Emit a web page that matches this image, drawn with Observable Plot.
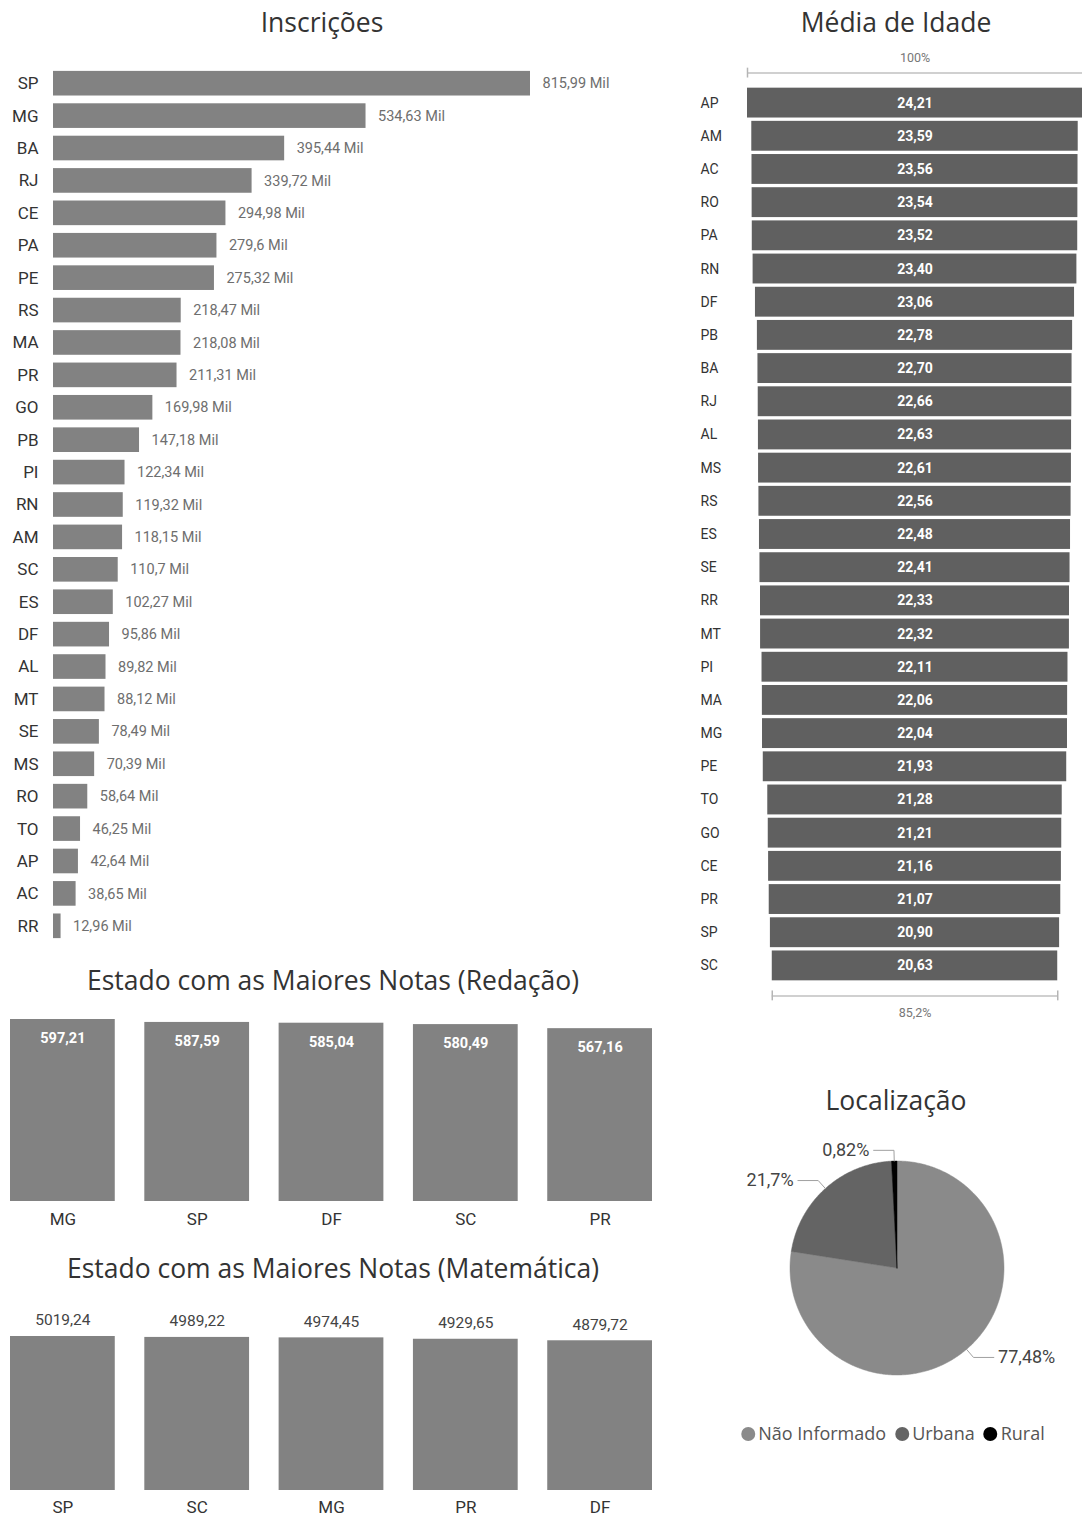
<!DOCTYPE html>
<html><head><meta charset="utf-8">
<script src="https://cdn.jsdelivr.net/npm/d3@7"></script>
<script src="https://cdn.jsdelivr.net/npm/@observablehq/plot@0.6"></script>
<style>
body{margin:0;width:1082px;height:1515px;position:relative;overflow:hidden;background:#fff;}
.title{position:absolute;font-family:"Open Sans",sans-serif;font-size:26.5px;color:#333;white-space:nowrap;transform:translateX(-50%);line-height:30px;}
.box{position:absolute;}
.legend{position:absolute;left:893px;top:1421px;transform:translateX(-50%);display:flex;gap:9px;font-family:"Open Sans",sans-serif;font-size:18px;color:#555;white-space:nowrap;align-items:center;}
.legend span.sw{display:inline-block;width:14px;height:14px;border-radius:50%;margin-right:3px;vertical-align:-1px;}
</style></head>
<body>
<div class="title" style="left:322px;top:7px">Inscrições</div>
<div class="title" style="left:896px;top:7px">Média de Idade</div>
<div class="title" style="left:333px;top:965px">Estado com as Maiores Notas (Redação)</div>
<div class="title" style="left:333px;top:1253px">Estado com as Maiores Notas (Matemática)</div>
<div class="title" style="left:896px;top:1085px">Localização</div>
<div class="box" id="insc" style="left:0;top:67px"></div>
<div class="box" id="age" style="left:690px;top:46px"></div>
<div class="box" id="red" style="left:0;top:1000px"></div>
<div class="box" id="mat" style="left:0;top:1300px"></div>
<div class="box" id="pie" style="left:700px;top:1130px"></div>
<div class="legend" id="legend"></div>
<script>
// ---- Data ----
const inscStates = ["SP","MG","BA","RJ","CE","PA","PE","RS","MA","PR","GO","PB","PI","RN","AM","SC","ES","DF","AL","MT","SE","MS","RO","TO","AP","AC","RR"];
const inscValues = [815.99,534.63,395.44,339.72,294.98,279.6,275.32,218.47,218.08,211.31,169.98,147.18,122.34,119.32,118.15,110.7,102.27,95.86,89.82,88.12,78.49,70.39,58.64,46.25,42.64,38.65,12.96];

const ageStates = ["AP","AM","AC","RO","PA","RN","DF","PB","BA","RJ","AL","MS","RS","ES","SE","RR","MT","PI","MA","MG","PE","TO","GO","CE","PR","SP","SC"];
const ageValues = [24.21,23.59,23.56,23.54,23.52,23.40,23.06,22.78,22.70,22.66,22.63,22.61,22.56,22.48,22.41,22.33,22.32,22.11,22.06,22.04,21.93,21.28,21.21,21.16,21.07,20.90,20.63];

const redStates = ["MG","SP","DF","SC","PR"];
const redValues = [597.21,587.59,585.04,580.49,567.16];

const matStates = ["SP","SC","MG","PR","DF"];
const matValues = [5019.24,4989.22,4974.45,4929.65,4879.72];

const locNames = ["Não Informado","Urbana","Rural"];
const locValues = [77.48,21.7,0.82];
const locColors = ["#8a8a8a","#646464","#000000"];

// ---- Helpers ----
const comma = s => String(s).replace(".", ",");
const fix2 = v => comma(v.toFixed(2));
const font = "Roboto, 'DejaVu Sans', sans-serif";

// ---- Inscrições ----
const insc = inscStates.map((s,i)=>({s, v: inscValues[i]}));
document.getElementById("insc").append(Plot.plot({
  width: 650, height: 875, marginTop: 0, marginBottom: 0, marginLeft: 53, marginRight: 120,
  style: {fontFamily: font, background: "transparent"},
  x: {domain: [0, d3.max(inscValues)], axis: null},
  y: {domain: inscStates, paddingInner: 0.24, paddingOuter: 0.12, round: false, axis: null},
  marks: [
    Plot.barX(insc, {x: "v", y: "s", fill: "#828282"}),
    Plot.text(insc, {x: "v", y: "s", text: d => comma(d.v) + " Mil", textAnchor: "start", dx: 12, fill: "#6e6e6e", fontSize: 14.5}),
    Plot.text(insc, {y: "s", text: "s", frameAnchor: "left", textAnchor: "end", dx: -15, fill: "#333", fontSize: 17})
  ]
}));

// ---- Média de Idade (funnel) ----
const age = ageStates.map((s,i)=>({s, v: ageValues[i]}));
const ageMax = d3.max(ageValues), ageMin = d3.min(ageValues);
const firstAge = ageStates[0], lastAge = ageStates[ageStates.length - 1];
const pct = v => comma(+(v).toFixed(1)) + "%";
document.getElementById("age").append(Plot.plot({
  width: 392, height: 986, marginTop: 40, marginBottom: 50, marginLeft: 57, marginRight: 0,
  style: {fontFamily: font, background: "transparent", overflow: "visible"},
  x: {domain: [-ageMax, ageMax], axis: null},
  y: {domain: ageStates, paddingInner: 0.1, paddingOuter: 0.05, round: false, axis: null},
  marks: [
    Plot.barX(age, {x1: d => -d.v, x2: d => d.v, y: "s", fill: "#606060"}),
    Plot.text(age, {y: "s", text: d => fix2(d.v), frameAnchor: "middle", fill: "white", fontWeight: "bold", fontSize: 14}),
    Plot.text(age, {y: "s", text: "s", frameAnchor: "left", textAnchor: "start", dx: -47, fill: "#333", fontSize: 14}),
    // top scale (100%)
    Plot.ruleY([ageMax], {y: () => firstAge, x1: d => -d, x2: d => d, stroke: "#d0d0d0", strokeWidth: 2, dy: -30}),
    Plot.tickX([-ageMax], {x: d => d, y: () => firstAge, insetTop: 10, insetBottom: 10, stroke: "#b5b5b5", strokeWidth: 1.5, dy: -30}),
    Plot.text([ageMax], {x: () => 0, text: d => pct(d / ageMax * 100), frameAnchor: "top", dy: -33, fill: "#777", fontSize: 12.5}),
    // bottom scale (min %)
    Plot.ruleY([ageMin], {y: () => lastAge, x1: d => -d, x2: d => d, stroke: "#d0d0d0", strokeWidth: 2, dy: 30}),
    Plot.tickX([-ageMin, ageMin], {x: d => d, y: () => lastAge, insetTop: 10, insetBottom: 10, stroke: "#b5b5b5", strokeWidth: 1.5, dy: 30}),
    Plot.text([ageMin], {x: () => 0, text: d => pct(d / ageMax * 100), frameAnchor: "bottom", dy: 34, fill: "#777", fontSize: 12.5})
  ]
}));

// ---- Redação ----
const red = redStates.map((s,i)=>({s, v: redValues[i]}));
document.getElementById("red").append(Plot.plot({
  width: 662, height: 231, marginTop: 19, marginBottom: 30, marginLeft: 10, marginRight: 10,
  style: {fontFamily: font, background: "transparent"},
  x: {domain: redStates, paddingInner: 0.22, paddingOuter: 0, round: false, axis: null},
  y: {domain: [0, d3.max(redValues)], axis: null},
  marks: [
    Plot.barY(red, {x: "s", y: "v", fill: "#828282"}),
    Plot.text(red, {x: "s", y: "v", text: d => fix2(d.v), dy: 19, fill: "white", fontWeight: "bold", fontSize: 14.5}),
    Plot.text(red, {x: "s", text: "s", frameAnchor: "bottom", dy: 23, fill: "#333", fontSize: 17})
  ]
}));

// ---- Matemática ----
const mat = matStates.map((s,i)=>({s, v: matValues[i]}));
document.getElementById("mat").append(Plot.plot({
  width: 662, height: 215, marginTop: 36, marginBottom: 25, marginLeft: 10, marginRight: 10,
  style: {fontFamily: font, background: "transparent"},
  x: {domain: matStates, paddingInner: 0.22, paddingOuter: 0, round: false, axis: null},
  y: {domain: [0, d3.max(matValues)], axis: null},
  marks: [
    Plot.barY(mat, {x: "s", y: "v", fill: "#828282"}),
    Plot.text(mat, {x: "s", y: "v", text: d => fix2(d.v), dy: -16, fill: "#444", fontSize: 15.5}),
    Plot.text(mat, {x: "s", text: "s", frameAnchor: "bottom", dy: 22, fill: "#333", fontSize: 17})
  ]
}));

// ---- Localização (pie) ----
const loc = locNames.map((name,i)=>({name, v: locValues[i]}));
const arcs = d3.pie().sort(null).value(d => d.v)(loc);
const piePts = arcs.flatMap(a => {
  const n = Math.max(2, Math.ceil((a.endAngle - a.startAngle) / 0.01));
  const pts = [{name: a.data.name, x: 0, y: 0}];
  for (let i = 0; i <= n; i++) {
    const t = a.startAngle + (a.endAngle - a.startAngle) * i / n;
    pts.push({name: a.data.name, x: Math.sin(t), y: -Math.cos(t)});
  }
  pts.push({name: a.data.name, x: 0, y: 0});
  return pts;
});
const leaders = arcs.map(a => {
  const m = (a.startAngle + a.endAngle) / 2;
  const sx = Math.sin(m), sy = -Math.cos(m);
  const side = sx < 0 ? -1 : 1;
  const ex = sx * 1.1, ey = sy * 1.1;
  return {name: a.data.name, side, label: comma(a.data.v) + "%",
    pts: [{x: sx, y: sy}, {x: ex, y: ey}, {x: ex + side * 0.19, y: ey}],
    tx: ex + side * 0.23, ty: ey};
});
const leaderPts = leaders.flatMap(l => l.pts.map(p => ({name: l.name, ...p})));
document.getElementById("pie").append(Plot.plot({
  width: 382, height: 270, margin: 0,
  style: {fontFamily: font, background: "transparent", overflow: "visible"},
  x: {domain: [-1, 1], range: [89.5, 303.5], axis: null},
  y: {domain: [-1, 1], range: [30.5, 244.5], axis: null},
  color: {domain: locNames, range: locColors},
  marks: [
    Plot.line(piePts, {x: "x", y: "y", z: "name", fill: "name", stroke: "name", strokeWidth: 0.5}),
    Plot.line(leaderPts, {x: "x", y: "y", z: "name", stroke: "#a0a0a0", strokeWidth: 1}),
    Plot.text(leaders.filter(l => l.side > 0), {x: "tx", y: "ty", text: "label", textAnchor: "start", fill: "#444", fontSize: 18}),
    Plot.text(leaders.filter(l => l.side < 0), {x: "tx", y: "ty", text: "label", textAnchor: "end", fill: "#444", fontSize: 18})
  ]
}));

// ---- Legend ----
const legend = document.getElementById("legend");
locNames.forEach((n, i) => {
  const item = document.createElement("span");
  const sw = document.createElement("span");
  sw.className = "sw"; sw.style.background = locColors[i];
  item.append(sw, document.createTextNode(n));
  legend.append(item);
});
</script>
</body></html>
